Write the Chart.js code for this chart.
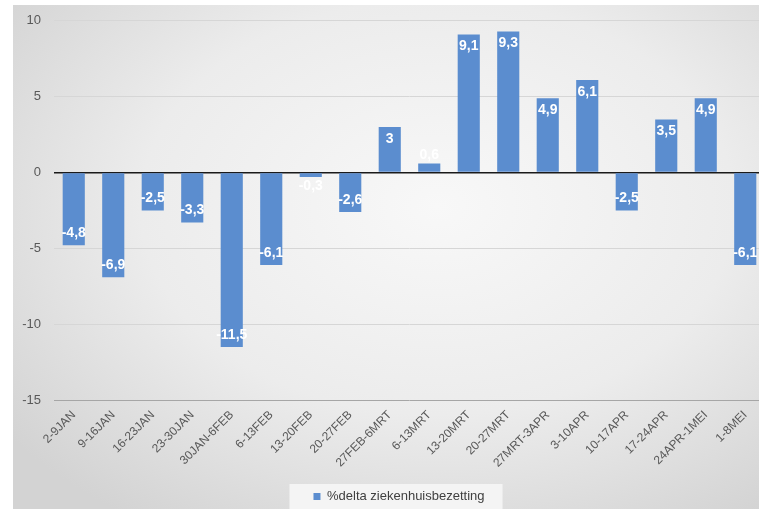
<!DOCTYPE html>
<html>
<head>
<meta charset="utf-8">
<script src="https://cdn.jsdelivr.net/npm/chart.js@4"></script>
<style>
  html, body { margin: 0; padding: 0; background: #fff; overflow: hidden; width: 759px; height: 509px; }
  #wrap {
    position: absolute; left: 13px; top: 5px; width: 772px; height: 504px; overflow: hidden;
    background: radial-gradient(ellipse 70% 75% at 55% 40%, #f8f8f8 0%, #ececec 55%, #d3d3d3 100%);
  }
  #chart { position: absolute; left: 0; top: -5px; }
</style>
</head>
<body>
<div id="wrap"><canvas id="chart" width="772" height="510"></canvas></div>
<script>
// categorieën (weken) en waarden
const weken = ["2-9JAN", "9-16JAN", "16-23JAN", "23-30JAN", "30JAN-6FEB", "6-13FEB", "13-20FEB", "20-27FEB",
  "27FEB-6MRT", "6-13MRT", "13-20MRT", "20-27MRT", "27MRT-3APR", "3-10APR", "10-17APR", "17-24APR",
  "24APR-1MEI", "1-8MEI"];
const deltaBezetting = [-4.8, -6.9, -2.5, -3.3, -11.5, -6.1, -0.3, -2.6, 3, 0.6, 9.1, 9.3, 4.9, 6.1, -2.5, 3.5, 4.9, -6.1];
const yTicks = [-15, -10, -5, 0, 5, 10];
const serieNaam = "%delta ziekenhuisbezetting";

const FONT = "'Liberation Sans', Arial, sans-serif";
const barColor = "#5b8dcf";

// getal met komma als decimaalteken
function fmt(v) {
  return String(v).replace(".", ",");
}

// witte labels aan het uiteinde van de staven
const labelPlugin = {
  id: "barLabels",
  afterDatasetsDraw(chart) {
    const ctx = chart.ctx;
    const meta = chart.getDatasetMeta(0);
    ctx.save();
    ctx.font = "bold 14px " + FONT;
    ctx.fillStyle = "#ffffff";
    ctx.textAlign = "center";
    ctx.textBaseline = "middle";
    meta.data.forEach((bar, i) => {
      const v = deltaBezetting[i];
      const h = Math.abs(bar.base - bar.y);
      let y;
      if (h < 20) {
        y = v >= 0 ? bar.y - 8 : bar.y + 9;
      } else {
        y = v >= 0 ? bar.y + 12 : bar.y - 12;
      }
      ctx.fillText(fmt(v), bar.x, y);
    });
    ctx.restore();
  }
};

// legenda iets verschuiven + lichte achtergrond
const legendBg = {
  id: "legendBg",
  afterLayout(chart) {
    chart.legend.left += 10;
    chart.legend.right += 10;
    chart.legend.top += 3;
    chart.legend.bottom += 3;
  },
  beforeDraw(chart) {
    const hb = chart.legend && chart.legend.legendHitBoxes && chart.legend.legendHitBoxes[0];
    if (!hb) return;
    const ctx = chart.ctx;
    ctx.save();
    ctx.fillStyle = "rgba(246,246,246,0.9)";
    ctx.fillRect(hb.left - 24, hb.top - 6, hb.width + 42, 40);
    ctx.restore();
  }
};

new Chart(document.getElementById("chart"), {
  type: "bar",
  data: {
    labels: weken,
    datasets: [{
      label: serieNaam,
      data: deltaBezetting,
      backgroundColor: barColor,
      borderWidth: 0,
      categoryPercentage: 1,
      barPercentage: 0.56
    }]
  },
  options: {
    responsive: false,
    animation: false,
    layout: { padding: { top: 9, right: 20, left: 0, bottom: 0 } },
    scales: {
      y: {
        min: -15,
        max: 10,
        afterBuildTicks(axis) {
          axis.ticks = yTicks.map((v) => ({ value: v }));
        },
        afterFit(axis) { axis.width = 41; },
        border: { display: false },
        grid: {
          drawTicks: false,
          color: (c) => c.tick.value === 0 ? "#1a1a1a" : (c.tick.value === -15 ? "#a6a6a6" : "#d6d6d6"),
          lineWidth: (c) => c.tick.value === 0 ? 1.5 : 1
        },
        ticks: { padding: 13, color: "#595959", font: { family: FONT, size: 13 } }
      },
      x: {
        afterFit(axis) { axis.height = 84; },
        border: { display: false },
        grid: { display: false },
        ticks: {
          autoSkip: false,
          minRotation: 45,
          maxRotation: 45,
          padding: 0,
          color: "#595959",
          font: { family: FONT, size: 12 }
        }
      }
    },
    plugins: {
      legend: {
        position: "bottom",
        labels: {
          boxWidth: 7,
          boxHeight: 7,
          padding: 3,
          color: "#404040",
          font: { family: FONT, size: 13 }
        }
      },
      tooltip: { enabled: false }
    }
  },
  plugins: [labelPlugin, legendBg]
});
</script>
</body>
</html>
